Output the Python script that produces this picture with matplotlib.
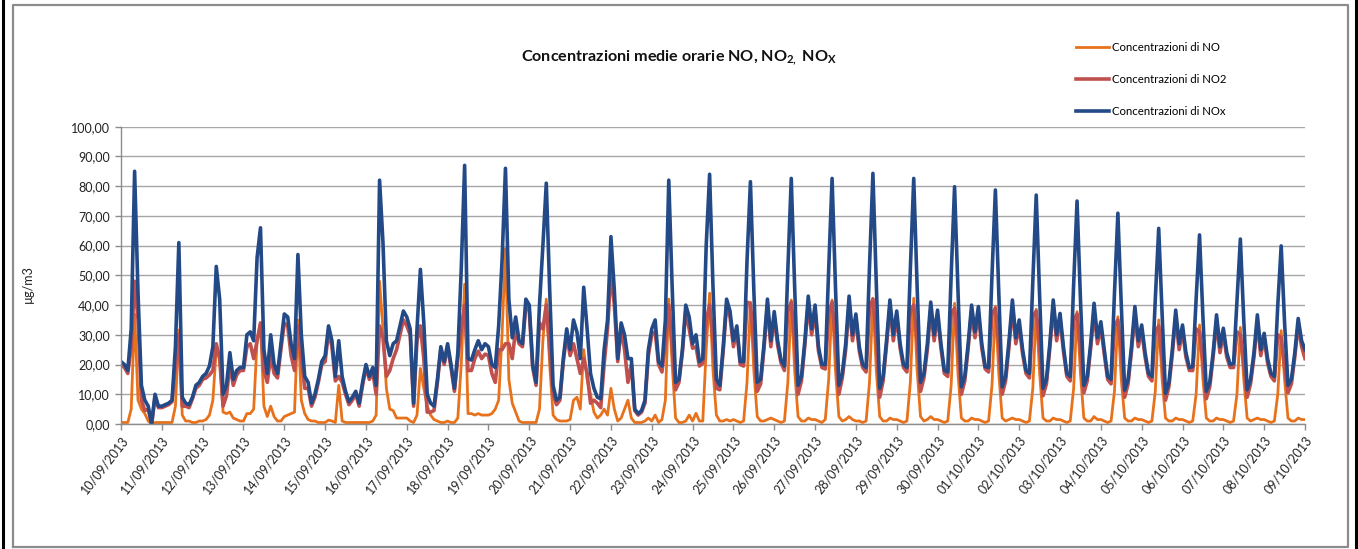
import numpy as np
import matplotlib
matplotlib.use("Agg")
import matplotlib.pyplot as plt
from matplotlib.lines import Line2D

plt.rcParams["font.family"] = ["Lato", "DejaVu Sans"]
plt.rcParams["mathtext.fontset"] = "custom"
plt.rcParams["mathtext.rm"] = "Lato:bold"
plt.rcParams["mathtext.it"] = "Lato:bold"
plt.rcParams["mathtext.bf"] = "Lato:bold"
plt.rcParams["mathtext.default"] = "rm"

# ---- data: 2-hourly readings (00,02,...,22 h) per day, 10/09/2013 -> 09/10/2013 00:00
dates = ["10/09/2013", "11/09/2013", "12/09/2013", "13/09/2013", "14/09/2013",
         "15/09/2013", "16/09/2013", "17/09/2013", "18/09/2013", "19/09/2013",
         "20/09/2013", "21/09/2013", "22/09/2013", "23/09/2013", "24/09/2013",
         "25/09/2013", "26/09/2013", "27/09/2013", "28/09/2013", "29/09/2013",
         "30/09/2013", "01/10/2013", "02/10/2013", "03/10/2013", "04/10/2013",
         "05/10/2013", "06/10/2013", "07/10/2013", "08/10/2013", "09/10/2013"]

nox = [
    21, 20, 18, 32, 85, 44, 13, 8, 6, 0, 10, 6,
    6, 6.5, 7, 8, 26, 61, 9, 7, 6.5, 9, 13, 14,
    16, 17, 19.5, 26, 53, 42, 10, 13, 24, 15, 18, 19,
    19, 30, 31, 28, 56, 66, 25, 17, 30, 20, 17, 27,
    37, 36, 27, 22, 57, 30, 16, 14, 7, 10, 15, 21,
    23, 33, 28, 16, 28, 16, 11, 7.5, 9, 11, 7, 14,
    20, 16, 19, 13, 82, 61, 28, 23, 27, 28, 33, 38,
    36, 32, 7, 32, 52, 34, 10, 7, 6, 15, 26, 21,
    27, 20, 12, 24, 52, 87, 22, 21.5, 25, 28, 25, 27,
    26, 20, 19, 33, 55, 86, 42, 29, 36, 28, 27, 42,
    40, 20, 14, 40, 60, 81, 45, 13, 8, 9, 22, 32,
    25, 35, 31, 22, 46, 32, 17, 12, 9, 8.5, 25, 35,
    63, 45, 22, 34, 30, 22, 22, 5, 3.5, 4.5, 8, 25,
    32, 35, 21, 19.5, 35, 82, 46, 14, 15, 25, 40, 36,
    27, 30, 21, 22, 60, 84, 46, 15, 13, 26, 42, 38,
    28, 33, 21, 21, 55, 81.5, 45, 14, 15, 27, 42, 28,
    37.8, 28, 21.5, 19.5, 52, 82.6, 46, 13, 16, 28, 43, 32,
    40, 26, 20, 20, 52, 82.6, 46, 13, 17, 27, 43, 30,
    37, 26, 20, 19, 53, 84.3, 47, 12, 16, 28, 41.7, 30,
    38, 27, 20, 19, 52, 82.6, 46, 14, 17, 27, 41, 30,
    38.3, 27, 18, 17.5, 50, 79.8, 45, 12.5, 16, 27, 40, 31,
    39.5, 27, 19.3, 19, 50, 78.7, 44, 12.5, 16, 28, 41.7, 29,
    35, 25, 18, 17, 48, 77, 43, 12, 15, 27, 41.7, 30,
    37.2, 26, 17, 16, 47, 75, 42, 13, 16, 27, 40.6, 29,
    34.4, 25, 16, 15, 44, 70.9, 40, 11.4, 15, 26, 39.5, 28,
    33.3, 24, 17, 16, 42, 65.8, 37, 10.3, 14, 25, 38.3, 27,
    33.3, 24, 19, 19.3, 42, 63.6, 36, 11, 14, 24, 36.7, 26,
    32.2, 24, 20, 20.4, 41, 62.2, 35, 11.5, 15, 24, 36.7, 25,
    30.5, 22, 17, 16, 40, 59.9, 34, 13, 15, 24, 35.5, 28,
    25,
]

no = [
    0.5, 0.5, 0.5, 5, 37, 8, 5, 3.5, 1, 0, 0.5, 0.5,
    0.5, 0.5, 0.5, 0.5, 6, 31.6, 3, 1, 1, 0.5, 0.5, 1,
    1, 1.5, 3, 8, 25, 22, 4, 3.5, 4, 2, 1.5, 1,
    1, 3.5, 3.5, 5, 28, 34, 6, 2.5, 6, 2.5, 1, 1,
    2.5, 3, 3.5, 4, 35, 8, 3.5, 1.5, 1, 1, 0.5, 0.5,
    0.5, 1.3, 1, 0.5, 13, 1, 0.5, 0.5, 0.5, 0.5, 0.5, 0.5,
    0.5, 0.5, 1, 3, 48, 32, 12, 5, 4.5, 2, 2, 2,
    2, 1, 0.5, 3, 18.7, 12, 6, 3, 1.5, 1, 0.5, 0.5,
    1, 0.5, 0.5, 2, 20, 47, 3.5, 3.5, 3, 3.5, 3, 3,
    3, 3.5, 5, 8, 30, 59, 15, 7, 4, 1, 0.5, 0.5,
    0.5, 0.5, 0.5, 5, 28, 42, 20, 3, 1.5, 1, 1, 1,
    1.5, 8, 9, 5, 25, 15, 10, 4, 2, 3, 5, 3,
    12, 5, 1, 2, 5, 8, 2, 0.5, 0.5, 0.5, 1, 2,
    1, 3, 0.5, 1.5, 8, 42, 20, 2, 0.5, 0.5, 1, 3,
    1, 3.6, 1, 1, 25, 44, 18, 3, 1, 1, 1.5, 1,
    1.5, 1, 0.5, 1, 14, 41, 18, 2.5, 1, 1, 1.5, 2,
    1.5, 1, 0.5, 1, 14, 41.7, 18, 2.5, 1, 1, 2, 1.5,
    1.5, 1, 0.5, 1.5, 15, 41.7, 18, 2.5, 1, 1.5, 2.5, 1.5,
    1, 1, 0.5, 1, 14, 42.3, 18, 2.5, 1, 1, 2, 1.5,
    1.5, 1, 0.5, 1, 14, 42.3, 18, 2.5, 1, 1.5, 2.5, 1.5,
    1.5, 1, 0.5, 1, 13, 40.6, 17, 2, 1, 1, 2, 1.5,
    1.5, 1, 0.5, 1, 13, 39.5, 17, 2, 1, 1.5, 2, 1.5,
    1.5, 1, 0.5, 1, 12, 38.6, 17, 2, 1, 1, 2, 1.5,
    1.5, 1, 0.5, 1, 12, 37.8, 17, 2, 1, 1, 2.5, 1.5,
    1.5, 1, 0.5, 1, 11, 36.1, 15, 2, 1, 1, 2, 1.5,
    1.5, 1, 0.5, 1, 11, 35, 15, 2, 1, 1, 2, 1.5,
    1.5, 1, 0.5, 1, 10, 33.3, 15, 2, 1, 1, 2, 1.5,
    1.5, 1, 0.5, 1, 10, 32.5, 15, 2, 1, 1.5, 2, 1.5,
    1.5, 1, 0.5, 1, 10, 31.4, 15, 2, 1, 1, 2, 1.5,
    1.5,
]

no2 = [
    20, 19, 17, 26, 48, 35, 8, 4.5, 5, 0, 9, 5.5,
    5.5, 6, 6.5, 7.5, 20, 30, 6, 6, 5.5, 8.5, 12, 13,
    15, 15.5, 16.5, 18, 27, 22, 6, 9.5, 20, 13, 16.5, 18,
    18, 26, 27, 22, 28, 34, 18, 14, 23, 17, 15.5, 25,
    34, 33, 23, 18, 33, 22, 12, 12, 6, 9, 14, 20,
    21, 31, 26, 14.5, 16, 14, 10, 6.5, 8, 10, 6, 13,
    19, 15, 17.5, 10, 33, 29, 16, 18, 22, 25, 30, 35,
    33, 30, 6, 28, 33, 22, 4, 4, 4.5, 14, 25, 20,
    26, 19, 11, 22, 32, 40, 18, 18, 22, 24.5, 22, 23.5,
    23, 17, 14, 25, 25, 27, 27, 22, 32, 27, 26, 40,
    38, 19, 13, 34, 32, 40, 25, 10, 6.5, 8, 21, 30,
    23, 27, 22, 17, 22, 17, 7, 8, 7, 5.5, 20, 32,
    51, 40, 21, 32, 25, 14, 20, 4.5, 3, 4, 7, 23,
    30, 31, 20, 17.5, 27, 40, 26, 11.5, 14, 24, 38, 32,
    25.5, 26, 19.5, 20.5, 35, 40, 28, 12, 11.5, 24.5, 40, 36,
    26, 31.5, 20, 19.5, 41, 40.5, 27, 11, 13.5, 25.5, 40, 26,
    36, 26.5, 20.5, 18, 38, 41, 28, 10, 14.5, 26.5, 40.5, 30,
    38, 24.5, 19, 18.5, 37, 41, 28, 10, 15.5, 25, 40, 28,
    35.5, 24.5, 19, 17.5, 39, 42, 29, 9, 14.5, 26.5, 39.5, 28,
    36, 25.5, 19, 17.5, 38, 40, 28, 11, 15.5, 25, 38.5, 28,
    36.5, 25.5, 17, 16, 37, 39, 28, 10, 14.5, 25.5, 38, 29,
    37.5, 25.5, 18.5, 17.5, 37, 39, 27, 10, 14.5, 26, 39.5, 27,
    33, 23.5, 17, 15.5, 36, 38, 26, 9.5, 13.5, 25.5, 39.5, 28,
    35.5, 24.5, 16, 14.5, 35, 37, 25, 10.5, 14.5, 25.5, 37.5, 27,
    32.5, 23.5, 15, 13.5, 33, 35, 25, 9, 13.5, 24.5, 37, 26,
    31.5, 22.5, 16, 14.5, 31, 33, 22, 8, 12.5, 23.5, 36, 25,
    31.5, 22.5, 18, 18, 32, 31, 21, 8.5, 12.5, 22.5, 34.5, 24,
    30.5, 22.5, 19, 19, 31, 30, 20, 9, 13.5, 22.5, 34.5, 23,
    29, 20.5, 16, 14.5, 30, 29, 19, 10.5, 13.5, 22.5, 33.5, 26,
    22,
]

labels = ["Concentrazioni di NO", "Concentrazioni di NO2", "Concentrazioni di NOx"]
colors = ["#E8721C", "#C0504D", "#234A86"]
yticks = [0, 10, 20, 30, 40, 50, 60, 70, 80, 90, 100]

# ---- figure
W, H = 1358, 549
fig = plt.figure(figsize=(W / 100, H / 100), dpi=100)
fig.patch.set_facecolor("white")

# outer frame (black side rules + grey chart border)
fig.add_artist(Line2D([2.5 / W, 2.5 / W], [0, 1], color="black", lw=2.2))
fig.add_artist(Line2D([1355.5 / W, 1355.5 / W], [0, 1], color="black", lw=2.2))
bx0, bx1, by0, by1 = 12.5 / W, 1347.5 / W, 1 - 546.5 / H, 1 - 4.5 / H
fig.add_artist(Line2D([bx0, bx1, bx1, bx0, bx0], [by0, by0, by1, by1, by0],
                      color="#8C8C8C", lw=1.6))

ax = fig.add_axes([121 / W, 1 - 424 / H, (1305 - 121) / W, (424 - 126.7) / H])
t = np.arange(len(nox)) * 2  # hours since 10/09/2013 00:00

l1, = ax.plot(t, no, color=colors[0], lw=2.0, solid_joinstyle="round")
l2, = ax.plot(t, no2, color=colors[1], lw=2.6, solid_joinstyle="round")
l3, = ax.plot(t, nox, color=colors[2], lw=2.6, solid_joinstyle="round")

ax.set_xlim(0, 24 * (len(dates) - 1))
ax.set_ylim(0, 100)
ax.set_yticks(yticks)
ax.set_yticklabels([f"{v:.2f}".replace(".", ",") for v in yticks], fontsize=9)
ax.set_xticks(np.arange(len(dates)) * 24)
ax.set_xticklabels(dates, rotation=52, ha="right", va="top",
                   rotation_mode="anchor", fontsize=9)
ax.grid(axis="y", color="#A6A6A6", lw=1)
ax.set_axisbelow(True)
for s in ["top", "right"]:
    ax.spines[s].set_visible(False)
for s in ["left", "bottom"]:
    ax.spines[s].set_color("#8C8C8C")
    ax.spines[s].set_linewidth(1)
ax.tick_params(axis="both", direction="out", color="#8C8C8C", length=4,
               width=1, labelcolor="#222222")
ax.tick_params(axis="x", pad=3)
ax.tick_params(axis="y", pad=4)

ax.set_ylabel("µg/m3", fontsize=9, color="#222222")
ax.yaxis.set_label_coords(-0.074, 0.47)

fig.text(0.5, 1 - 58 / H, "Concentrazioni medie orarie NO, NO$_{2,}$ NO$_{X}$",
         ha="center", va="center", fontsize=11.6, fontweight="bold", color="#111111")

fig.legend([l1, l2, l3], labels, loc="upper left",
           bbox_to_anchor=(1076 / W, 1 - 42 / H), frameon=False, fontsize=8.2,
           handlelength=2.9, handletextpad=0.25, labelspacing=1.85,
           borderpad=0, borderaxespad=0)

fig.savefig("out.png", dpi=100, facecolor="white")
